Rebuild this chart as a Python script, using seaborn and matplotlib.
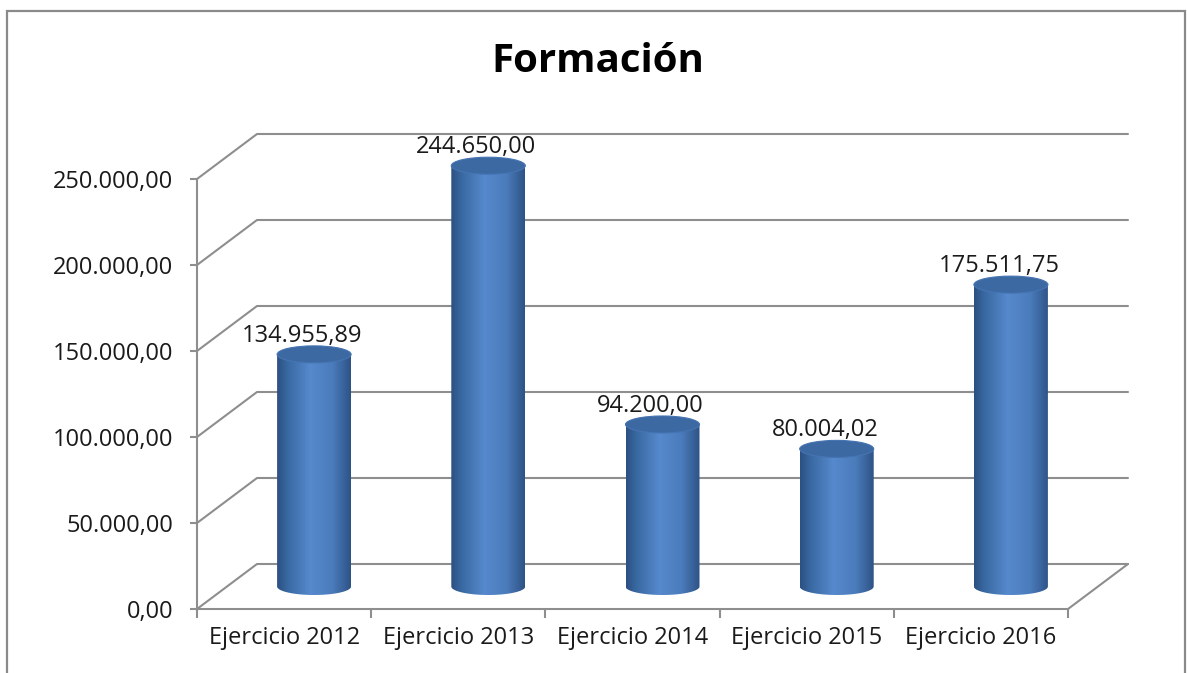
import numpy as np
import pandas as pd
import seaborn as sns
import matplotlib
matplotlib.use('Agg')
import matplotlib.pyplot as plt
from matplotlib.colors import to_rgb
from matplotlib.patches import Ellipse, PathPatch, Rectangle
from matplotlib.path import Path

# Chart data.
categories = ["Ejercicio 2012", "Ejercicio 2013", "Ejercicio 2014",
              "Ejercicio 2015", "Ejercicio 2016"]
values = [134955.89, 244650.00, 94200.00, 80004.02, 175511.75]
y_ticks = [0, 50000, 100000, 150000, 200000, 250000]
title = "Formación"


def es_format(v):
    s = "{:,.2f}".format(v)
    return s.replace(",", "#").replace(".", ",").replace("#", ".")


W, H = 1187, 673
sns.set_style("white")
plt.rcParams['font.family'] = ['Open Sans', 'DejaVu Sans']

fig = plt.figure(figsize=(W / 100, H / 100), dpi=100)

# Pixel geometry of the pseudo 3D box.
x0, y0 = 197, 609
cat_px = 174.2
val_px = 430 / 250000
depth_px = (60, 45)
right_px, top_px = 1135, 120
grid_c = "#8e8e8e"

ax = fig.add_axes([x0 / W, (H - y0) / H, (right_px - x0) / W, (y0 - top_px) / H])
xmax = -0.5 + (right_px - x0) / cat_px
ymax = (y0 - top_px) / val_px
DX = depth_px[0] / cat_px
DY = depth_px[1] / val_px
eh = 17 / val_px

df = pd.DataFrame({"cat": categories, "val": values})
sns.barplot(data=df, x="cat", y="val", width=74 / cat_px, ax=ax, color="#4f81bd")

# Horizontal shading for the cylinders.
stops = [(0.0, "#2c5082"), (0.15, "#3a6aa3"), (0.45, "#5689cd"),
         (0.75, "#4b7cbc"), (1.0, "#2e5386")]
xs = np.linspace(0, 1, 256)
grad = np.array([np.interp(xs, [s[0] for s in stops], [to_rgb(s[1])[k] for s in stops])
                 for k in range(3)]).T[None, :, :]

for bar in ax.patches[:]:
    bx, bw, bh = bar.get_x() + DX / 2, bar.get_width(), bar.get_height()
    base = DY / 2
    top = base + bh
    cx = bx + bw / 2
    bar.set_visible(False)

    t = np.linspace(np.pi, 2 * np.pi, 40)
    arc = np.column_stack([cx + bw / 2 * np.cos(t), base + eh / 2 * np.sin(t)])
    verts = np.vstack([[bx, top], arc, [bx + bw, top], [bx, top]])
    clip = PathPatch(Path(verts, closed=True), transform=ax.transData,
                     facecolor='none', edgecolor='none')
    ax.add_patch(clip)
    im = ax.imshow(grad, extent=[bx, bx + bw, base - eh / 2, top], aspect='auto',
                   zorder=3, interpolation='bilinear')
    im.set_clip_path(clip)
    ax.add_patch(Ellipse((cx, top), bw, eh, facecolor="#3d69a3", edgecolor="#4574b2",
                         lw=0.8, zorder=4, clip_on=False))
    ax.annotate(es_format(bh), (cx, top + eh / 2), xytext=(-8.5, 3),
                textcoords='offset points', ha='center', va='baseline',
                fontsize=17, color="#1a1a1a", zorder=5)

# Walls and floor.
for v in y_ticks:
    ax.plot([-0.5, -0.5 + DX, 4.5 + DX], [v, v + DY, v + DY], color=grid_c,
            lw=1.5, zorder=1, clip_on=False)
ax.plot([4.5, 4.5 + DX], [0, DY], color=grid_c, lw=1.5, zorder=1, clip_on=False)

ax.set_xlim(-0.5, xmax)
ax.set_ylim(0, ymax)

sns.despine(ax=ax, top=True, right=True)
for side in ["left", "bottom"]:
    ax.spines[side].set_color(grid_c)
    ax.spines[side].set_linewidth(1.5)
ax.spines["left"].set_bounds(0, 250000)
ax.spines["bottom"].set_bounds(-0.5, 4.5)

ax.set_yticks(y_ticks, labels=[es_format(v) for v in y_ticks])
ax.tick_params(axis='y', left=True, direction='out', length=5, width=1.5,
               color=grid_c, pad=12, labelsize=17, labelcolor="#1a1a1a")
ax.set_xticks(np.arange(-0.5, 5, 1), labels=[""] * 6)
ax.set_xticks(range(5), labels=categories, minor=True)
ax.tick_params(axis='x', which='major', bottom=True, direction='out',
               length=6.5, width=1.5, color=grid_c)
ax.tick_params(axis='x', which='minor', bottom=True, length=0, pad=12,
               labelsize=17, labelcolor="#1a1a1a")
ax.set_xlabel("")
ax.set_ylabel("")

fig.text(598 / W, 1 - 62 / H, title, ha='center', va='center',
         fontsize=29, fontweight='bold', color="#000000")

fig.add_artist(Rectangle((7 / W, -0.05), (1185 - 7) / W, (H - 11) / H + 0.05,
                         transform=fig.transFigure, fill=False,
                         edgecolor="#8a8a8a", lw=1.6))

fig.savefig("out.png", dpi=100)
plt.close()
